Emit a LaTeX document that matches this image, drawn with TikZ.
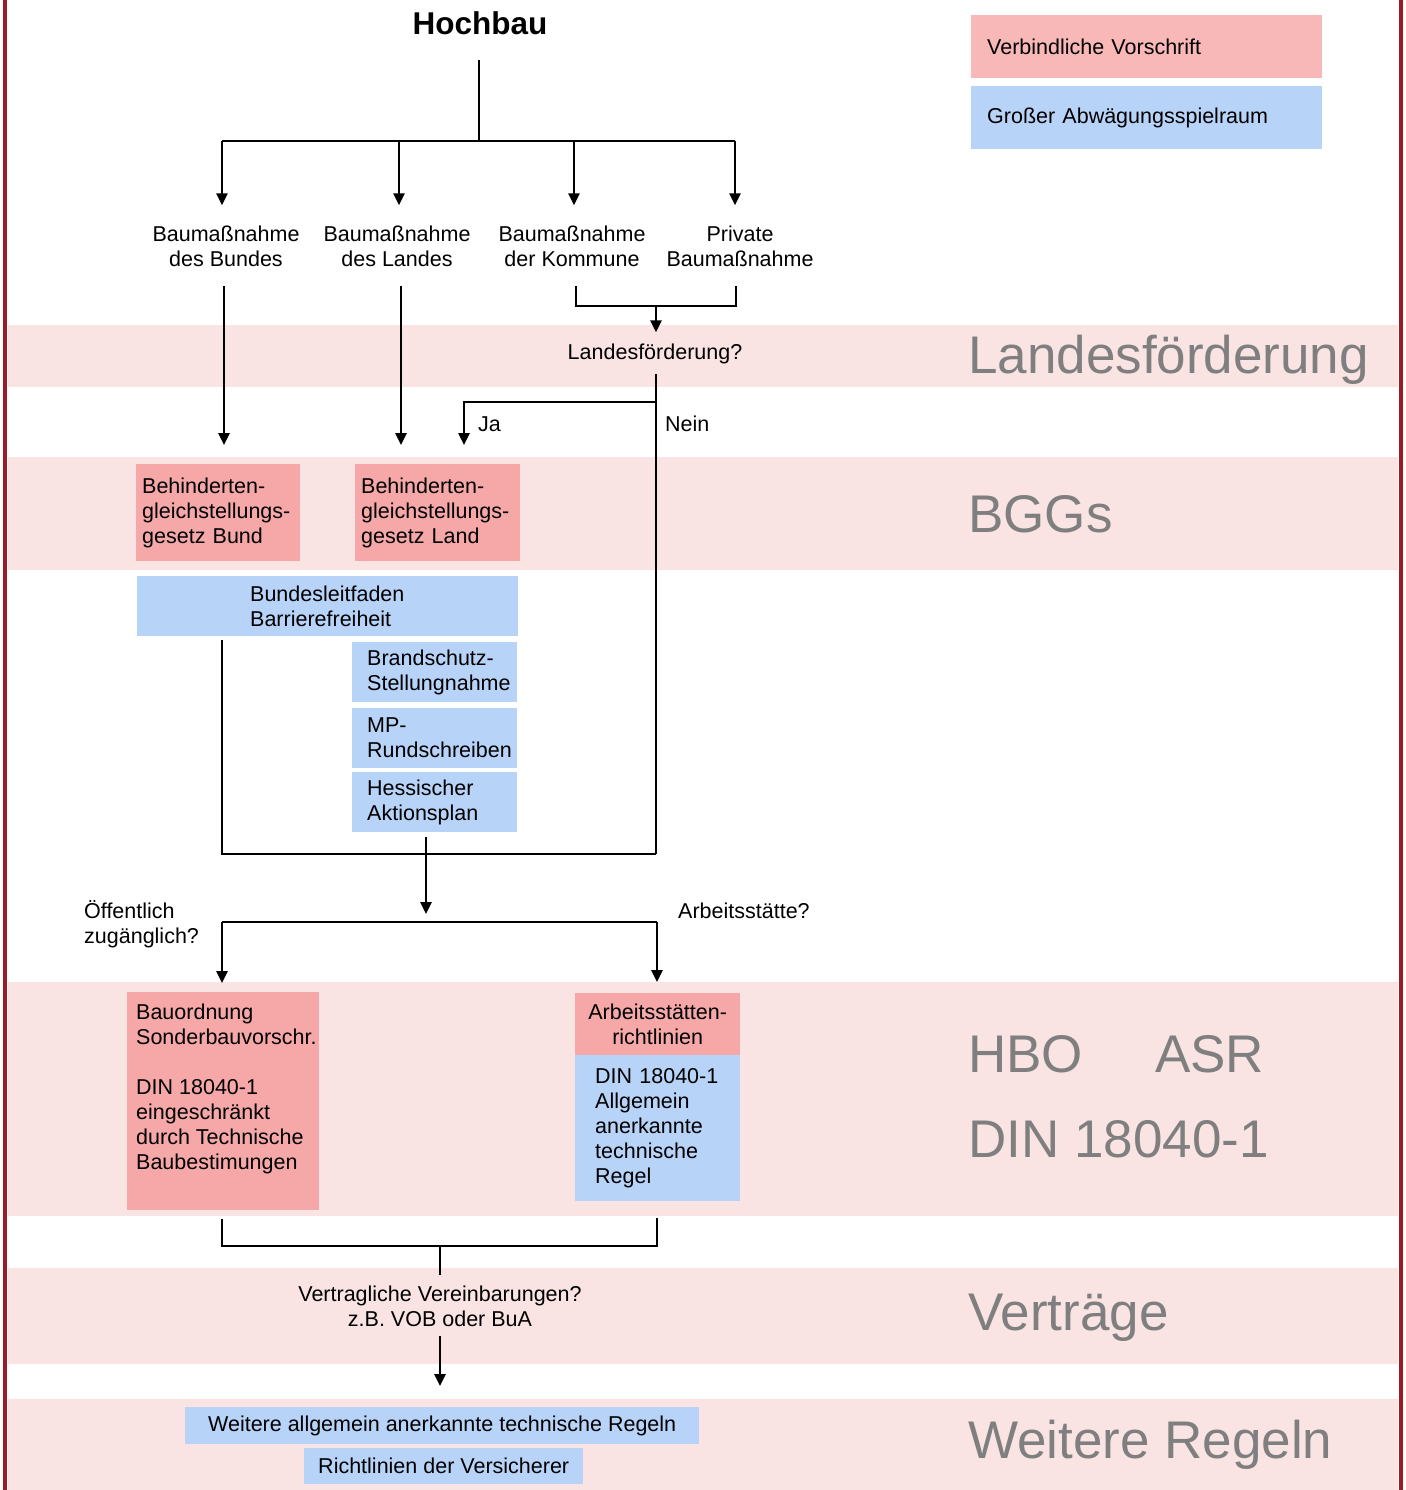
\documentclass[tikz,border=0pt]{standalone}
\usepackage{fontspec}
\setmainfont{Liberation Sans}
\usetikzlibrary{arrows.meta,positioning}

\definecolor{bandrosa}{HTML}{F9E3E3}
\definecolor{legrosa}{HTML}{F9B8B8}
\definecolor{boxrosa}{HTML}{F6A8A8}
\definecolor{boxblau}{HTML}{B8D3F8}
\definecolor{rahmen}{HTML}{9B1B25}
\definecolor{grautext}{HTML}{7F7F7F}

\hyphenpenalty=10000
\exhyphenpenalty=10000
\hfuzz=300pt
\hbadness=10000

\tikzset{
  txt/.style={font=\fontsize{21.5}{25}\selectfont, inner sep=0pt},
  lbl/.style={txt, align=center, anchor=base, outer ysep=20pt},
  frage/.style={txt, align=left, anchor=base west},
  box/.style={txt, anchor=west, align=left},
  vorschrift/.style={box, fill=boxrosa},
  spielraum/.style={box, fill=boxblau},
  ebene/.style={font=\fontsize{53}{60}\selectfont, text=grautext, anchor=base west, inner sep=0pt},
  linie/.style={line width=2.5pt},
  pfeil/.style={linie, -{Triangle[length=12pt,width=11pt]}},
}

\begin{document}
\begin{tikzpicture}[x=1pt, y=-1pt]
  \useasboundingbox (0,0) rectangle (1405,1490);

  % Ebenen (Hintergrundbaender)
  \foreach \a/\b in {325/387, 457/570, 982/1216, 1268/1364, 1399/1490}
    \fill[bandrosa] (8,\a) rectangle (1398,\b);

  % Legende
  \node[box, fill=legrosa, text width=319pt, inner xsep=16pt, minimum height=63pt] (leg1) at (971,46.5) {Verbindliche Vorschrift};
  \node[spielraum, text width=319pt, inner xsep=16pt, minimum height=63pt] (leg2) at (971,117.5) {Großer Abwägungsspielraum};

  % Ebenen-Beschriftung
  \node[ebene] (e1) at (968,373) {Landesförderung};
  \node[ebene] (e2) at (968,532) {BGGs};
  \node[ebene] (e3) at (968,1072) {HBO};
  \node[ebene] (e4) at (1155,1072) {ASR};
  \node[ebene] (e5) at (968,1157) {DIN 18040-1};
  \node[ebene] (e6) at (968,1330) {Verträge};
  \node[ebene] (e7) at (968,1458) {Weitere Regeln};

  % Baumassnahmen
  \node[txt, font=\fontsize{31.5}{36}\selectfont\bfseries, anchor=base, outer ysep=25pt] (hochbau) at (480,35) {Hochbau};
  \node[lbl] (bund) at (226,266) {Baumaßnahme\\des Bundes};
  \node[lbl] (land) at (397,266) {Baumaßnahme\\des Landes};
  \node[lbl] (komm) at (572,266) {Baumaßnahme\\der Kommune};
  \node[lbl] (priv) at (740,266) {Private\\Baumaßnahme};

  \coordinate (stamm) at (479,141);
  \draw[linie] (hochbau.south -| stamm) -- (stamm);
  \draw[linie] (stamm -| 222,0) -- (stamm -| 735,0);
  \foreach \n/\x in {bund/222, land/399, komm/574, priv/735}
    \draw[pfeil] (stamm -| \x,0) -- (\n.north -| \x,0);

  % Landesfoerderung
  \node[txt, anchor=base, outer ysep=11pt] (lfq) at (655,359) {Landesförderung?};
  \node[frage] (ja) at (478,431) {Ja};
  \node[frage] (nein) at (665,431) {Nein};
  \coordinate (kp) at (656,306);
  \coordinate (abzw) at (656,402);
  \coordinate (sammel) at (656,854);
  \draw[linie] (komm.south -| 576,0) |- (kp) -| (priv.south -| 736,0);
  \draw[pfeil] (kp) -- (lfq.north -| kp);

  % BGGs
  \node[vorschrift, text width=152pt, inner xsep=6pt, minimum height=97pt, outer ysep=19pt] (bggbund) at (136,512.5) {Behinderten-\\gleichstellungs-\\gesetz Bund};
  \node[vorschrift, text width=153pt, inner xsep=6pt, minimum height=97pt, outer ysep=19pt] (bggland) at (355,512.5) {Behinderten-\\gleichstellungs-\\gesetz Land};
  \draw[pfeil] (bund.south -| 224,0) -- (bggbund.north -| 224,0);
  \draw[pfeil] (land.south -| 401,0) -- (bggland.north -| 401,0);
  \draw[linie] (lfq.south -| abzw) -- (sammel);
  \draw[pfeil] (abzw) -| (bggland.north -| 464,0);

  % Leitfaeden
  \node[spielraum, text width=155pt, inner xsep=113pt, minimum height=60pt, outer ysep=4pt] (leitfaden) at (137,606) {Bundesleitfaden\\Barrierefreiheit};
  \node[spielraum, text width=135pt, inner xsep=15pt, minimum height=60pt] (brand) at (352,672) {Brandschutz-\\Stellungnahme};
  \node[spielraum, text width=135pt, inner xsep=15pt, minimum height=60pt] (mp) at (352,738) {MP-\\Rundschreiben};
  \node[spielraum, text width=135pt, inner xsep=15pt, minimum height=60pt, outer ysep=5pt] (hess) at (352,802) {Hessischer\\Aktionsplan};
  \draw[linie] (leitfaden.south -| 222,0) |- (sammel);

  % HBO / ASR
  \coordinate (mitte) at (426,914);
  \coordinate (vl) at (222,922);
  \coordinate (vr) at (657,922);
  \draw[pfeil] (hess.south -| mitte) -- (mitte);
  \draw[linie] (vl) -- (vr);
  \node[frage] (oeff) at (84,943) {Öffentlich\\zugänglich?};
  \node[frage] (arbq) at (678,918) {Arbeitsstätte?};

  \node[vorschrift, inner xsep=9pt, inner ysep=12pt, outer ysep=9pt] (bauo) at (127,1101)
    {\parbox[c][194pt][t]{174pt}{\raggedright Bauordnung\\Sonderbauvorschr.\\[25pt]DIN 18040-1\\eingeschränkt\\durch Technische\\Baubestimungen}};
  \node[vorschrift, align=center, minimum width=165pt, minimum height=62pt, outer ysep=11pt] (asrkopf) at (575,1024) {Arbeitsstätten-\\richtlinien};
  \node[spielraum, text width=125pt, inner xsep=20pt, minimum height=146pt, outer ysep=17pt] (asrdin) at (575,1128) {DIN 18040-1\\Allgemein\\anerkannte\\technische\\Regel};
  \draw[pfeil] (vl) -- (vl |- bauo.north);
  \draw[pfeil] (vr) -- (vr |- asrkopf.north);

  % Vertraege
  \coordinate (unten) at (440,1246);
  \node[txt, align=center, anchor=base, outer ysep=10pt] (vertrag) at (440,1326) {Vertragliche Vereinbarungen?\\z.B. VOB oder BuA};
  \draw[linie] (bauo.south -| vl) |- (unten) -| (asrdin.south -| vr);
  \draw[linie] (unten) -- (vertrag.north);

  % Weitere Regeln
  \node[spielraum, minimum width=514pt, minimum height=37pt, outer ysep=21pt] (weitere) at (185,1425.5) {Weitere allgemein anerkannte technische Regeln};
  \node[spielraum, minimum width=279pt, minimum height=36pt] (versich) at (304,1466) {Richtlinien der Versicherer};
  \draw[pfeil] (vertrag.south) -- (vertrag.south |- weitere.north);

  % Rahmen
  \draw[rahmen, line width=4.5pt] (5,0) -- (5,1490);
  \draw[rahmen, line width=4.5pt] (1401,0) -- (1401,1490);
\end{tikzpicture}
\end{document}
